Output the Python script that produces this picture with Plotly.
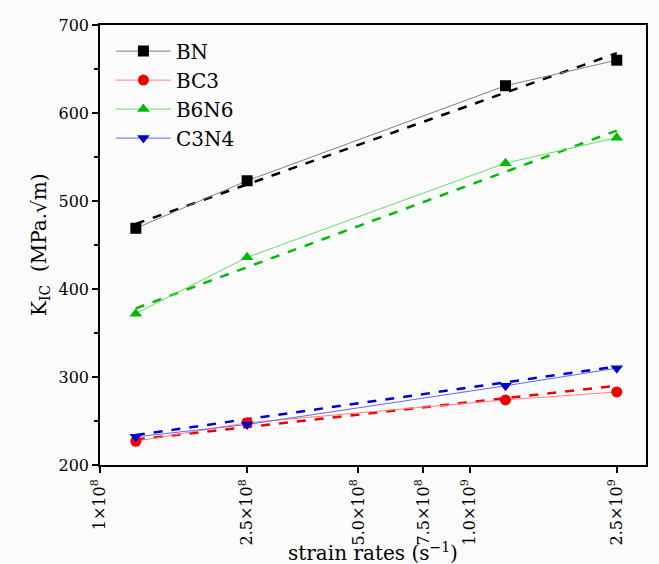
import plotly.graph_objects as go

strain = [1.25e8, 2.5e8, 1.25e9, 2.5e9]
fit_x = [1.25e8, 2.5e9]
names = ["BN", "BC3", "B6N6", "C3N4"]
BN = [469, 523, 631, 660]
BC3 = [227, 248, 274, 283]
B6N6 = [372, 436, 543, 572]
C3N4 = [232, 246, 290, 310]
BN_fit = [474, 668]
BC3_fit = [229, 290]
B6N6_fit = [378, 580]
C3N4_fit = [234, 312]

x_tickvals = [1e8, 2.5e8, 5e8, 7.5e8, 1e9, 2.5e9]
x_ticktext = ["1×10<sup>8</sup>", "2.5×10<sup>8</sup>", "5.0×10<sup>8</sup>",
              "7.5×10<sup>8</sup>", "1.0×10<sup>9</sup>", "2.5×10<sup>9</sup>"]

series = [
    (BN, BN_fit, "#808080", "black", "black", "square"),
    (BC3, BC3_fit, "#ff8080", "#ee0000", "#ee0000", "circle"),
    (B6N6, B6N6_fit, "#66dd66", "#00bb00", "#00bb00", "triangle-up"),
    (C3N4, C3N4_fit, "#6666ee", "#0000cc", "#0000cc", "triangle-down"),
]

fig = go.Figure()
for name, (vals, fit, lc, mc, dc, sym) in zip(names, series):
    fig.add_trace(go.Scatter(x=fit_x, y=fit, mode="lines", showlegend=False,
                             line=dict(color=dc, width=2.5, dash="dash"),
                             hoverinfo="skip"))
for name, (vals, fit, lc, mc, dc, sym) in zip(names, series):
    fig.add_trace(go.Scatter(x=strain, y=vals, mode="lines+markers", name=name,
                             line=dict(color=lc, width=1),
                             marker=dict(symbol=sym, size=11, color=mc)))

font_family = "DejaVu Serif"
fig.update_layout(
    width=659, height=564,
    margin=dict(l=100, r=13, t=25, b=99),
    paper_bgcolor="#fbfbfb", plot_bgcolor="#fbfbfb",
    font=dict(family=font_family, color="black", size=15),
    showlegend=True,
    legend=dict(x=0.02, y=0.985, xanchor="left", yanchor="top",
                bgcolor="rgba(0,0,0,0)", font=dict(size=20, family=font_family),
                itemwidth=55, tracegroupgap=0),
    xaxis=dict(type="log", range=[8, 9.477], tickvals=x_tickvals, ticktext=x_ticktext,
               tickangle=-90, ticks="outside", ticklen=6, tickwidth=1.5, tickcolor="black",
               showline=True, linecolor="black", linewidth=1.5, mirror=True,
               showgrid=False, zeroline=False, automargin=False,
               tickfont=dict(size=16)),
    yaxis=dict(range=[200, 700], dtick=100, ticks="outside", ticklen=6, tickwidth=1.5,
               tickcolor="black", showline=True, linecolor="black", linewidth=1.5, mirror=True,
               showgrid=False, zeroline=False, automargin=False,
               minor=dict(dtick=50, ticks="outside", ticklen=4, tickwidth=1.5, tickcolor="black"),
               tickfont=dict(size=16)),
    annotations=[
        dict(text="strain rates (s<sup>−1</sup>)", xref="paper", yref="paper",
             x=0.5, y=0, yshift=-87, xanchor="center", yanchor="middle",
             showarrow=False, font=dict(size=20)),
        dict(text="K<sub>IC</sub>  (MPa.√m)", xref="paper", yref="paper",
             x=0, y=0.5, xshift=-60, xanchor="center", yanchor="middle", textangle=-90,
             showarrow=False, font=dict(size=20)),
    ],
)
fig.write_html("out.html")
